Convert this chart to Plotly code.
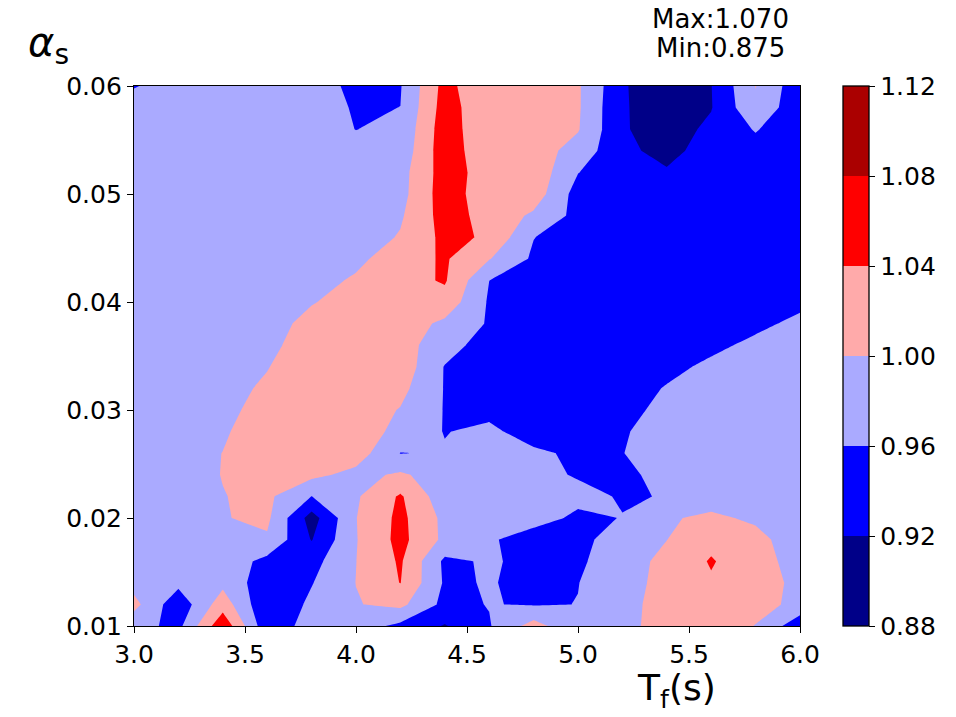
import plotly.graph_objects as go

# Grid: T_f (s) along x, alpha_s along y
tf_values = [3.0, 3.2, 3.4, 3.6, 3.8, 4.0, 4.2, 4.4, 4.6, 4.8, 5.0, 5.2, 5.4, 5.6, 5.8, 6.0]
alpha_values = [0.010, 0.012, 0.014, 0.016, 0.018, 0.020, 0.022, 0.024, 0.026,
                0.028, 0.030, 0.032, 0.034, 0.036, 0.038, 0.040, 0.042, 0.044,
                0.046, 0.048, 0.050, 0.052, 0.054, 0.056, 0.058, 0.060]

# One row of values per alpha_s (columns follow tf_values)
row_010 = [0.974, 0.949, 1.070, 0.930, 0.979, 0.980, 0.950, 0.917, 0.957, 1.017, 0.965, 0.975, 1.035, 1.035, 0.998, 0.935]
row_012 = [1.012, 0.933, 1.022, 0.925, 0.968, 0.998, 1.010, 0.949, 0.9615, 0.957, 0.9605, 0.975, 1.030, 1.035, 1.020, 0.985]
row_014 = [0.985, 0.970, 0.990, 0.935, 0.958, 1.0005, 1.041, 0.955, 0.962, 0.952, 0.9595, 0.975, 1.020, 1.036, 1.020, 0.989]
row_016 = [0.985, 0.980, 0.985, 0.948, 0.946, 0.9995, 1.045, 0.952, 0.9645, 0.950, 0.955, 0.978, 1.013, 1.043, 1.016, 0.984]
row_018 = [0.985, 0.985, 0.990, 0.995, 0.918, 0.998, 1.052, 0.991, 0.965, 0.942, 0.950, 0.977, 0.9995, 1.030, 1.015, 0.972]
row_020 = [0.985, 0.985, 0.998, 1.008, 0.903, 0.999, 1.050, 0.990, 0.980, 0.975, 0.953, 0.961, 0.995, 1.009, 0.992, 0.985]
row_022 = [0.985, 0.985, 0.999, 1.008, 0.9595, 0.995, 1.045, 0.975, 0.975, 0.975, 0.970, 0.957, 0.9615, 0.978, 0.985, 0.985]
row_024 = [0.985, 0.985, 1.001, 1.010, 1.010, 0.988, 1.006, 0.980, 0.975, 0.970, 0.957, 0.955, 0.967, 0.990, 0.995, 0.990]
row_026 = [0.985, 0.985, 1.0005, 1.020, 1.020, 1.020, 0.959, 0.964, 0.975, 0.970, 0.950, 0.959, 0.980, 0.990, 0.990, 0.985]
row_028 = [0.985, 0.980, 0.995, 1.023, 1.025, 1.015, 0.992, 0.958, 0.972, 0.935, 0.940, 0.955, 0.983, 0.985, 0.985, 0.985]
row_030 = [0.985, 0.980, 0.990, 1.014, 1.030, 1.020, 0.998, 0.958, 0.945, 0.945, 0.945, 0.940, 0.978, 0.980, 0.980, 0.980]
row_032 = [0.985, 0.980, 0.985, 1.007, 1.030, 1.025, 1.011, 0.958, 0.940, 0.940, 0.935, 0.940, 0.963, 0.975, 0.980, 0.985]
row_034 = [0.985, 0.980, 0.980, 0.998, 1.030, 1.030, 1.024, 0.958, 0.940, 0.935, 0.935, 0.935, 0.948, 0.969, 0.980, 0.985]
row_036 = [0.985, 0.980, 0.980, 0.985, 1.029, 1.030, 1.015, 0.979, 0.939, 0.935, 0.930, 0.930, 0.940, 0.950, 0.970, 0.980]
row_038 = [0.985, 0.980, 0.980, 0.980, 1.015, 1.025, 1.020, 0.992, 0.956, 0.935, 0.930, 0.930, 0.935, 0.940, 0.950, 0.970]
row_040 = [0.985, 0.980, 0.980, 0.980, 0.997, 1.020, 1.030, 1.025, 0.9556, 0.935, 0.930, 0.930, 0.930, 0.935, 0.940, 0.950]
row_042 = [0.985, 0.980, 0.980, 0.980, 0.985, 1.0055, 1.025, 1.044, 0.9602, 0.935, 0.930, 0.930, 0.930, 0.930, 0.935, 0.945]
row_044 = [0.985, 0.980, 0.980, 0.978, 0.980, 0.990, 1.023, 1.0445, 1.002, 0.954, 0.935, 0.930, 0.930, 0.930, 0.935, 0.940]
row_046 = [0.985, 0.980, 0.980, 0.978, 0.978, 0.980, 1.003, 1.050, 1.035, 0.961, 0.940, 0.930, 0.930, 0.930, 0.935, 0.940]
row_048 = [0.985, 0.980, 0.980, 0.978, 0.978, 0.978, 0.995, 1.056, 1.027, 0.993, 0.948, 0.935, 0.930, 0.935, 0.940, 0.945]
row_050 = [0.985, 0.980, 0.980, 0.978, 0.978, 0.975, 0.9865, 1.0605, 1.017, 1.022, 0.9435, 0.935, 0.930, 0.935, 0.940, 0.945]
row_052 = [0.985, 0.980, 0.980, 0.978, 0.975, 0.972, 0.985, 1.059, 1.022, 1.027, 0.961, 0.935, 0.924, 0.935, 0.940, 0.940]
row_054 = [0.985, 0.980, 0.978, 0.975, 0.975, 0.970, 0.974, 1.063, 1.011, 1.020, 0.984, 0.929, 0.908, 0.937, 0.945, 0.940]
row_056 = [0.980, 0.978, 0.975, 0.975, 0.975, 0.9595, 0.968, 1.062, 1.007, 1.020, 1.003, 0.924, 0.901, 0.9285, 0.963, 0.930]
row_058 = [0.975, 0.975, 0.975, 0.972, 0.975, 0.957, 0.9602, 1.058, 1.010, 1.020, 1.005, 0.923, 0.904, 0.918, 0.994, 0.929]
row_060 = [0.958, 0.975, 0.975, 0.972, 0.975, 0.952, 0.9576, 1.054, 1.004, 1.020, 1.005, 0.927, 0.875, 0.919, 1.001, 0.933]

z_rows = [row_010, row_012, row_014, row_016, row_018, row_020, row_022, row_024,
          row_026, row_028, row_030, row_032, row_034, row_036, row_038, row_040,
          row_042, row_044, row_046, row_048, row_050, row_052, row_054, row_056,
          row_058, row_060]

levels = [0.88, 0.92, 0.96, 1.00, 1.04, 1.08, 1.12]
band_colors = ["#000088", "#0000FF", "#AAAAFF", "#FFAAAA", "#FF0000", "#AA0000"]
x_ticks = [3.0, 3.5, 4.0, 4.5, 5.0, 5.5, 6.0]
y_ticks = [0.01, 0.02, 0.03, 0.04, 0.05, 0.06]

z_max = max(max(r) for r in z_rows)
z_min = min(min(r) for r in z_rows)

# Stepwise colorscale aligned with plotly's contour colour map
# (band above level k is coloured at normalised position (k+1)/7)
n_lev = len(levels)
contour_scale = []
for k, col in enumerate(band_colors):
    lo = 0.0 if k == 0 else (k + 0.5) / n_lev
    hi = 1.0 if k == len(band_colors) - 1 else (k + 1.5) / n_lev
    contour_scale.append([lo, col])
    contour_scale.append([hi, col])

# Stepwise scale for the colour bar: six equal bands between 0.88 and 1.12
nb = len(band_colors)
bar_scale = []
for k, col in enumerate(band_colors):
    bar_scale.append([k / nb, col])
    bar_scale.append([(k + 1) / nb, col])

font = "DejaVu Sans"
tick_size = 25

fig = go.Figure()
fig.add_trace(go.Contour(
    x=tf_values, y=alpha_values, z=z_rows,
    colorscale=contour_scale, showscale=False,
    contours=dict(start=levels[0], end=levels[-1], size=0.04,
                  coloring="fill", showlines=False),
    line=dict(width=0, smoothing=0),
    hoverinfo="skip",
))
# Invisible carrier for the discrete colour bar
fig.add_trace(go.Scatter(
    x=[None], y=[None], mode="markers", showlegend=False, hoverinfo="skip",
    marker=dict(color=[levels[0]], cmin=levels[0], cmax=levels[-1],
                colorscale=bar_scale, showscale=True,
                colorbar=dict(
                    x=1.0646, xanchor="left", y=0.5, yanchor="middle",
                    len=540, lenmode="pixels", thickness=26,
                    xpad=0, ypad=0,
                    outlinewidth=1.3, outlinecolor="black",
                    tickvals=levels, ticktext=[f"{v:.2f}" for v in levels],
                    ticks="outside", ticklen=6, tickwidth=1.3, tickcolor="black",
                    tickfont=dict(family=font, size=tick_size, color="black"),
                )),
))

fig.update_layout(
    width=956, height=717, autosize=False,
    margin=dict(l=134, r=156, t=86, b=91),
    paper_bgcolor="white", plot_bgcolor="white",
    font=dict(family=font, color="black"),
    xaxis=dict(range=[3.0, 6.0], tickvals=x_ticks,
               ticktext=[f"{v:.1f}" for v in x_ticks],
               showline=True, mirror=True, linecolor="black", linewidth=1.3,
               ticks="outside", ticklen=6, tickwidth=1.3, tickcolor="black",
               showgrid=False, zeroline=False,
               tickfont=dict(family=font, size=tick_size, color="black")),
    yaxis=dict(range=[0.01, 0.06], tickvals=y_ticks,
               ticktext=[f"{v:.2f}" for v in y_ticks],
               showline=True, mirror=True, linecolor="black", linewidth=1.3,
               ticks="outside", ticklen=6, tickwidth=1.3, tickcolor="black",
               showgrid=False, zeroline=False,
               tickfont=dict(family=font, size=tick_size, color="black")),
    annotations=[
        dict(text=f"Max:{z_max:.3f}", xref="paper", yref="paper", x=0.88, y=1.124,
             xanchor="center", yanchor="middle", showarrow=False,
             font=dict(family=font, size=26, color="black")),
        dict(text=f"Min:{z_min:.3f}", xref="paper", yref="paper", x=0.88, y=1.070,
             xanchor="center", yanchor="middle", showarrow=False,
             font=dict(family=font, size=26, color="black")),
        dict(text="T<sub>f</sub>(s)", xref="paper", yref="paper", x=0.815, y=-0.119,
             xanchor="center", yanchor="middle", showarrow=False,
             font=dict(family=font, size=36, color="black")),
        dict(text="<i>α</i><sub>s</sub>", xref="paper", yref="paper", x=-0.129, y=1.076,
             xanchor="center", yanchor="middle", showarrow=False,
             font=dict(family=font, size=40, color="black")),
    ],
)

fig.write_html("out.html")
